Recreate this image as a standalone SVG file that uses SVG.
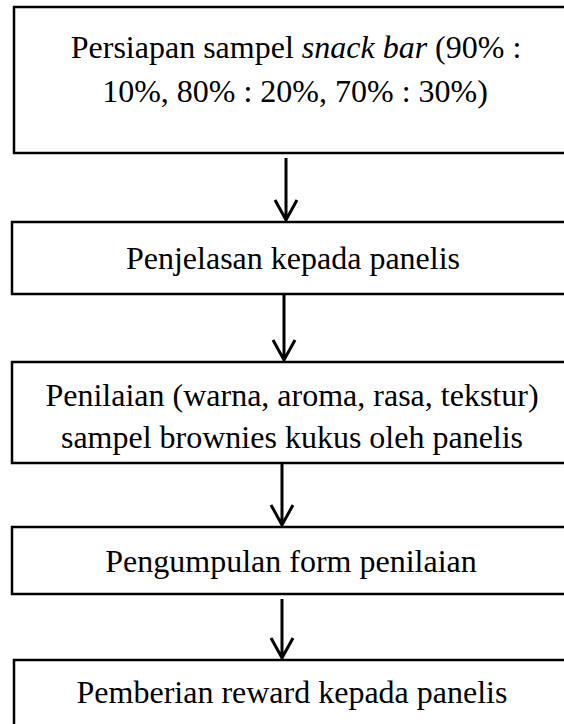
<svg xmlns="http://www.w3.org/2000/svg" width="564" height="724" viewBox="0 0 564 724">
<style>
.box{fill:#fff;stroke:#000;stroke-width:2.5}
.t{font-family:"Liberation Serif","Times New Roman",serif;font-size:32px;fill:#000;text-anchor:middle}
.c{stroke:#000;stroke-width:3;fill:none}
</style>
<rect width="564" height="724" fill="#fff"/>
<g id="n1"><rect class="box" x="14" y="7" width="560" height="146"/>
<text class="t" x="296" y="58">Persiapan sampel <tspan font-style="italic">snack bar</tspan> (90% :</text>
<text class="t" x="295" y="102">10%, 80% : 20%, 70% : 30%)</text></g>
<g id="n2"><rect class="box" x="12" y="222" width="562" height="72"/>
<text class="t" x="293" y="269">Penjelasan kepada panelis</text></g>
<g id="n3"><rect class="box" x="12" y="362" width="562" height="101"/>
<text class="t" x="292" y="406">Penilaian (warna, aroma, rasa, tekstur)</text>
<text class="t" x="292" y="448">sampel brownies kukus oleh panelis</text></g>
<g id="n4"><rect class="box" x="12" y="527" width="562" height="67"/>
<text class="t" x="291" y="572">Pengumpulan form penilaian</text></g>
<g id="n5"><rect class="box" x="14" y="660" width="560" height="80"/>
<text class="t" x="292" y="703">Pemberian reward kepada panelis</text></g>
<g id="connectors">
<path class="c" d="M286 158V220M275 200L286 220L297 200"/>
<path class="c" d="M284 294V360M273 340L284 360L295 340"/>
<path class="c" d="M282 463V525M271 505L282 525L293 505"/>
<path class="c" d="M282 599V658M271 638L282 658L293 638"/>
</g>
</svg>
